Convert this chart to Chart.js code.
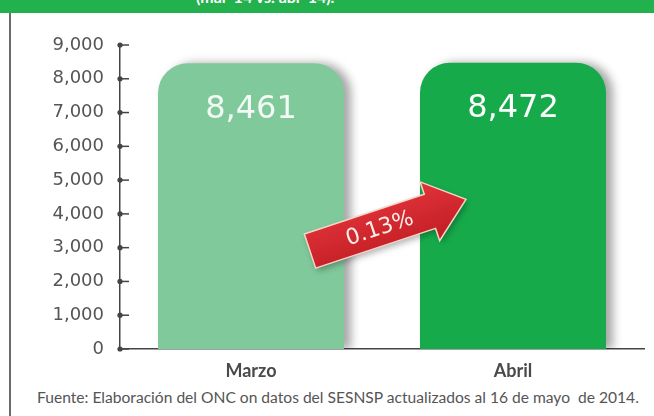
<!DOCTYPE html>
<html>
<head>
<meta charset="utf-8">
<script src="https://cdn.jsdelivr.net/npm/chart.js@4"></script>
<style>
  body { margin: 0; width: 654px; height: 416px; overflow: hidden; background: #fff; position: relative; font-family: Lato, sans-serif; }
  #band { position: absolute; left: 0; top: 0; width: 654px; height: 13px; background: #22b14c; overflow: hidden; }
  #band span { position: absolute; left: 196px; top: -13px; color: #fff; font-weight: bold; font-size: 16px; white-space: nowrap; }
  #edge { position: absolute; left: 9px; top: 13px; width: 2px; height: 403px; background: #6a6a6a; }
  #wrap { position: absolute; left: 12px; top: 16px; width: 642px; height: 370px; }
  #fuente { position: absolute; left: 37px; top: 388px; font-size: 15.6px; color: #555; white-space: nowrap; }
</style>
</head>
<body>
<div id="band"><span>(mar-14 vs. abr-14).</span></div>
<div id="edge"></div>
<div id="wrap"><canvas id="myChart"></canvas></div>
<div id="fuente">Fuente: Elaboración del ONC on datos del SESNSP actualizados al 16 de mayo&nbsp; de 2014.</div>
<script>
const categorias = ["Marzo", "Abril"];
const valores = [8461, 8472];
const etiquetas = ["8,461", "8,472"];
const variacion = "0.13%";
const colores = ["#80c99b", "#16aa4b"];
const coloresTexto = ["rgba(255,255,255,0.9)", "#ffffff"];

// sombra gris a la derecha de las barras
const sombra = {
  id: "sombra",
  beforeDatasetDraw(chart) {
    const ctx = chart.ctx;
    ctx.save();
    ctx.shadowColor = "rgba(0,0,0,0.35)";
    ctx.shadowBlur = 10;
    ctx.shadowOffsetX = 7;
    ctx.shadowOffsetY = 0;
  },
  afterDatasetDraw(chart) {
    chart.ctx.restore();
  }
};

// marcas del eje y: punto sobre el eje y raya hacia la derecha
const marcasY = {
  id: "marcasY",
  afterDraw(chart) {
    const ctx = chart.ctx;
    const y = chart.scales.y;
    const x0 = chart.chartArea.left;
    ctx.save();
    ctx.fillStyle = "#444";
    ctx.strokeStyle = "#444";
    ctx.lineWidth = 1.5;
    y.ticks.forEach(t => {
      const py = y.getPixelForValue(t.value);
      ctx.beginPath();
      ctx.arc(x0, py, 2.6, 0, Math.PI * 2);
      ctx.fill();
      ctx.beginPath();
      ctx.moveTo(x0, py);
      ctx.lineTo(x0 + 9, py);
      ctx.stroke();
    });
    ctx.restore();
  }
};

// valores dentro de las barras y flecha roja
const anotaciones = {
  id: "anotaciones",
  afterDatasetsDraw(chart) {
    const ctx = chart.ctx;
    const meta = chart.getDatasetMeta(0);
    const y = chart.scales.y;

    ctx.save();
    ctx.font = "32px 'DejaVu Sans'";
    ctx.textAlign = "center";
    ctx.textBaseline = "middle";
    meta.data.forEach((bar, i) => {
      ctx.fillStyle = coloresTexto[i];
      ctx.fillText(etiquetas[i], bar.x, bar.y + 46);
    });
    ctx.restore();

    const b0 = meta.data[0], b1 = meta.data[1];
    const tx = b0.x + b0.width / 2 - 34, ty = y.getPixelForValue(2900);
    const px = b1.x - b1.width / 2 + 46, py = y.getPixelForValue(4430);
    const ang = Math.atan2(py - ty, px - tx);
    const L = Math.hypot(px - tx, py - ty);
    const h = 18, H = 31, hl = 38;

    ctx.save();
    ctx.translate(tx, ty);
    ctx.rotate(ang);
    ctx.beginPath();
    ctx.moveTo(0, -h);
    ctx.lineTo(L - hl, -h);
    ctx.lineTo(L - hl, -H);
    ctx.lineTo(L, 0);
    ctx.lineTo(L - hl, H);
    ctx.lineTo(L - hl, h);
    ctx.lineTo(0, h);
    ctx.closePath();
    ctx.shadowColor = "rgba(0,0,0,0.3)";
    ctx.shadowBlur = 6;
    ctx.shadowOffsetX = 2;
    ctx.shadowOffsetY = 3;
    const g = ctx.createLinearGradient(0, -H, 0, H);
    g.addColorStop(0, "#e2333a");
    g.addColorStop(1, "#c11d24");
    ctx.fillStyle = g;
    ctx.fill();
    ctx.shadowColor = "transparent";
    ctx.strokeStyle = "#f4d6c8";
    ctx.lineWidth = 1.5;
    ctx.stroke();
    ctx.fillStyle = "#fbeee6";
    ctx.font = "22px 'DejaVu Sans'";
    ctx.textAlign = "center";
    ctx.textBaseline = "middle";
    ctx.fillText(variacion, (L - hl) / 2 + 10, 1);
    ctx.restore();
  }
};

const ctx = document.getElementById("myChart").getContext("2d");
const myChart = new Chart(ctx, {
  type: "bar",
  data: {
    labels: categorias,
    datasets: [
      {
        data: valores,
        backgroundColor: colores,
        borderWidth: 0,
        borderSkipped: "start",
        borderRadius: { topLeft: 30, topRight: 30, bottomLeft: 0, bottomRight: 0 },
        barPercentage: 0.71,
        categoryPercentage: 1,
      },
    ],
  },
  options: {
    responsive: true,
    maintainAspectRatio: false,
    animation: false,
    layout: { padding: { top: 29, right: 10, bottom: 0, left: 0 } },
    plugins: {
      legend: { display: false },
      tooltip: { enabled: false },
    },
    scales: {
      x: {
        grid: { display: false, drawTicks: false },
        border: { display: true, color: "#444", width: 1.5 },
        ticks: {
          color: "#4a4a4a",
          font: { family: "Lato", size: 18, weight: "bold" },
          padding: 11,
        },
        afterFit(scale) { scale.height = 37; },
      },
      y: {
        min: 0,
        max: 9000,
        grid: { display: false, drawTicks: false },
        border: { display: true, color: "#444", width: 1.5 },
        ticks: {
          stepSize: 1000,
          color: "#555",
          font: { family: "DejaVu Sans", size: 18 },
          padding: 16,
          callback: v => v.toLocaleString("en-US"),
        },
        afterFit(scale) { scale.width = 108; },
      },
    },
  },
  plugins: [sombra, marcasY, anotaciones],
});
</script>
</body>
</html>
